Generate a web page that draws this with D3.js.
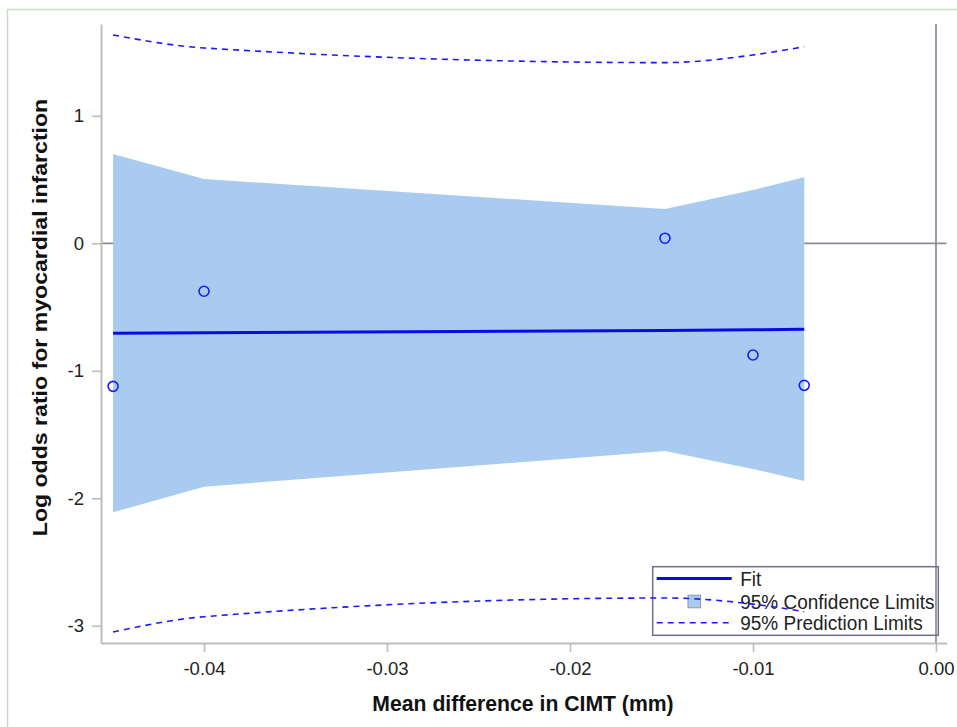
<!DOCTYPE html>
<html>
<head>
<meta charset="utf-8">
<script src="https://cdn.jsdelivr.net/npm/d3@7"></script>
<style>
  html, body { margin: 0; padding: 0; background: #fff; }
  svg { display: block; font-family: "Liberation Sans", Arial, sans-serif; }
</style>
</head>
<body>
<svg id="chart" width="957" height="727"></svg>
<script>
// Study-level CIMT differences and their log odds ratios
const cimtDiff = [-0.04497, -0.0400, -0.01481, -0.0100, -0.00720];
const logOdds  = [-1.122, -0.376, 0.040, -0.876, -1.114];

// Meta-regression fit with 95% confidence and prediction limits at each study
const fitValues = [-0.706, -0.701, -0.683, -0.679, -0.675];
const clUpper   = [0.700, 0.504, 0.269, 0.418, 0.518];
const clLower   = [-2.110, -1.909, -1.630, -1.770, -1.865];
const plUpper   = [1.634, 1.532, 1.417, 1.477, 1.542];
const plLower   = [-3.049, -2.929, -2.782, -2.830, -2.889];

const xTicks = [-0.04, -0.03, -0.02, -0.01, 0.00];
const yTicks = [-3, -2, -1, 0, 1];
const legendLabels = ["Fit", "95% Confidence Limits", "95% Prediction Limits"];

const xLabel = "Mean difference in CIMT (mm)";
const yLabel = "Log odds ratio for myocardial infarction";

const svg = d3.select("#chart");

const x = d3.scaleLinear().domain([-0.04563, 0.00058]).range([101, 946.6]);
const y = d3.scaleLinear().domain([-3.135, 1.72]).range([643, 24]);

const blue = "#1a1aff";
const fitBlue = "#0a0ae6";
const bandFill = "#a9cbef";
const refColor = "#8e8a9c";
const axisColor = "#b9c0b9";
const textColor = "#222";

// outer frame
svg.append("rect")
  .attr("x", 7.5).attr("y", 9.5)
  .attr("width", 1000).attr("height", 1000)
  .attr("fill", "none").attr("stroke", "#c9ddc6").attr("stroke-width", 1.5);

// reference lines at zero
svg.append("line")
  .attr("x1", x.range()[0]).attr("x2", x.range()[1])
  .attr("y1", y(0)).attr("y2", y(0))
  .attr("stroke", refColor).attr("stroke-width", 1.7);
svg.append("line")
  .attr("x1", x(0)).attr("x2", x(0))
  .attr("y1", y.range()[1]).attr("y2", y.range()[0])
  .attr("stroke", refColor).attr("stroke-width", 1.7);

const rows = cimtDiff.map((d, i) => ({
  x: d, fit: fitValues[i], lo: clLower[i], hi: clUpper[i],
  plo: plLower[i], phi: plUpper[i], obs: logOdds[i]
}));

// confidence band
svg.append("path")
  .datum(rows)
  .attr("fill", bandFill)
  .attr("d", d3.area().x(d => x(d.x)).y0(d => y(d.lo)).y1(d => y(d.hi)));

// fitted line
svg.append("path")
  .datum(rows)
  .attr("fill", "none").attr("stroke", fitBlue).attr("stroke-width", 3)
  .attr("d", d3.line().x(d => x(d.x)).y(d => y(d.fit)));

// observed studies
svg.append("g").selectAll("circle")
  .data(rows).join("circle")
  .attr("cx", d => x(d.x)).attr("cy", d => y(d.obs)).attr("r", 5)
  .attr("fill", "none").attr("stroke", blue).attr("stroke-width", 1.6);

// axes (plain hyphen for negative tick labels)
const xAxis = svg.append("g")
  .attr("transform", `translate(0,${y.range()[0]})`)
  .call(d3.axisBottom(x).tickValues(xTicks).tickFormat(d => d.toFixed(2))
    .tickSize(9).tickSizeOuter(0).tickPadding(10));
const yAxis = svg.append("g")
  .attr("transform", `translate(${x.range()[0]},0)`)
  .call(d3.axisLeft(y).tickValues(yTicks).tickFormat(d => String(d))
    .tickSize(9).tickSizeOuter(0).tickPadding(8));
[xAxis, yAxis].forEach(g => {
  g.select(".domain").attr("stroke", axisColor).attr("stroke-width", 2);
  g.selectAll(".tick line").attr("stroke", axisColor).attr("stroke-width", 1.6);
  g.selectAll(".tick text").attr("fill", textColor)
    .style("font-size", "18.5px").style("font-family", "'Liberation Sans', Arial, sans-serif");
});

// axis titles
svg.append("text")
  .attr("transform", "translate(523,711) scale(1,1.08)")
  .attr("text-anchor", "middle").attr("fill", "#111")
  .style("font-size", "21.2px").style("font-weight", "bold")
  .text(xLabel);
svg.append("text")
  .attr("transform", `translate(47,317.5) scale(1,1.1) rotate(-90)`)
  .attr("text-anchor", "middle").attr("fill", "#111")
  .style("font-size", "21px").style("font-weight", "bold")
  .text(yLabel);

// legend
const lg = svg.append("g").attr("transform", "translate(652.7,566.7)");
lg.append("rect")
  .attr("width", 285.6).attr("height", 68.6)
  .attr("fill", "none").attr("stroke", "#736d93").attr("stroke-width", 1.5);
const rowY = [11.8, 34.8, 56];
lg.append("line").attr("x1", 4).attr("x2", 79).attr("y1", rowY[0]).attr("y2", rowY[0])
  .attr("stroke", fitBlue).attr("stroke-width", 3);
lg.append("rect").attr("x", 35.3).attr("y", rowY[1] - 6.3).attr("width", 12.6).attr("height", 12.6)
  .attr("fill", bandFill).attr("stroke", "#8a9ab0").attr("stroke-width", 1);
lg.append("line").attr("x1", 4).attr("x2", 79).attr("y1", rowY[2]).attr("y2", rowY[2])
  .attr("stroke", blue).attr("stroke-width", 1.5).attr("stroke-dasharray", "6,5");
lg.selectAll("text.lab").data(legendLabels).join("text")
  .attr("class", "lab")
  .attr("transform", (d, i) => `translate(87.5,${rowY[i] + 7}) scale(1,1.08)`)
  .attr("fill", textColor).style("font-size", "19px")
  .text(d => d);

// prediction limits
["phi", "plo"].forEach(k => {
  svg.append("path")
    .datum(rows)
    .attr("fill", "none").attr("stroke", blue).attr("stroke-width", 1.6)
    .attr("stroke-dasharray", "6,5")
    .attr("d", d3.line().curve(d3.curveMonotoneX).x(d => x(d.x)).y(d => y(d[k])));
});
</script>
</body>
</html>
